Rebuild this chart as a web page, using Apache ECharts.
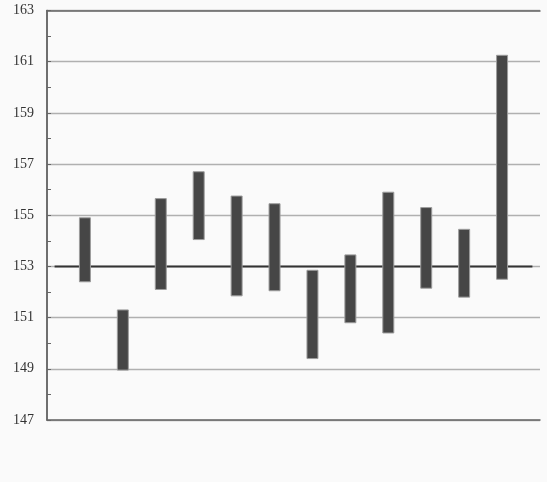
<!DOCTYPE html>
<html>
<head>
<meta charset="utf-8">
<script src="https://cdn.jsdelivr.net/npm/echarts@6/dist/echarts.min.js"></script>
<style>
html,body{margin:0;padding:0;background:#fafafa;}
#chart{width:547px;height:482px;}
</style>
</head>
<body>
<div id="chart"></div>
<script>
// Data
const positions = [1, 2, 3, 4, 5, 6, 7, 8, 9, 10, 11, 12];
const lows  = [152.4, 148.95, 152.1, 154.05, 151.85, 152.05, 149.4, 150.8, 150.4, 152.15, 151.8, 152.5];
const highs = [154.9, 151.3, 155.65, 156.7, 155.75, 155.45, 152.85, 153.45, 155.9, 155.3, 154.45, 161.25];
const refValue = 153;
const refSpan = [0.2, 12.8];
const yMin = 147, yMax = 163;
const xMin = 0, xMax = 13;

const barData = positions.map((p, i) => [p, lows[i], highs[i]]);
const refData = refSpan.map(x => [x, refValue]);

const chart = echarts.init(document.getElementById('chart'));
const axisColor = '#666';
chart.setOption({
  backgroundColor: '#fafafa',
  animation: false,
  grid: {left: 47, right: 7, top: 10.5, bottom: 62, containLabel: false},
  xAxis: [
    {type: 'value', min: xMin, max: xMax, position: 'bottom',
     axisLine: {show: true, lineStyle: {color: axisColor, width: 1.5}},
     axisTick: {show: false}, axisLabel: {show: false}, splitLine: {show: false}},
    {type: 'value', min: xMin, max: xMax, position: 'top',
     axisLine: {show: true, lineStyle: {color: axisColor, width: 1.5}},
     axisTick: {show: false}, axisLabel: {show: false}, splitLine: {show: false}}
  ],
  yAxis: [
    {type: 'value', min: yMin, max: yMax, interval: 1, position: 'left',
     axisLine: {show: true, lineStyle: {color: axisColor, width: 1.5}},
     axisTick: {show: true, inside: true, length: 4, lineStyle: {color: axisColor}},
     axisLabel: {
       margin: 13, color: '#333', fontFamily: 'Liberation Serif', fontSize: 14,
       formatter: v => (Math.round(v) % 2 === 1 ? String(v) : '')
     },
     splitLine: {show: true, lineStyle: {color: ['#b0b0b0', 'rgba(0,0,0,0)'], width: 1.3}}},
    {type: 'value', min: yMin, max: yMax, interval: 1, position: 'right',
     axisLine: {show: true, lineStyle: {color: axisColor, width: 1.5}},
     axisTick: {show: false}, axisLabel: {show: false}, splitLine: {show: false}}
  ],
  series: [
    {type: 'line', xAxisIndex: 0, yAxisIndex: 0, data: refData, symbol: 'none',
     lineStyle: {color: '#333', width: 2}, z: 2},
    {type: 'custom', xAxisIndex: 0, yAxisIndex: 0, data: barData, z: 3,
     encode: {x: 0, y: [1, 2]},
     renderItem: function (params, api) {
       const x = api.value(0);
       const lo = api.coord([x, api.value(1)]);
       const hi = api.coord([x, api.value(2)]);
       const w = 11;
       return {
         type: 'rect',
         shape: {x: lo[0] - w / 2, y: hi[1], width: w, height: lo[1] - hi[1]},
         style: {fill: '#464646', stroke: '#9c9c9c', lineWidth: 1}
       };
     }}
  ]
});
</script>
</body>
</html>
